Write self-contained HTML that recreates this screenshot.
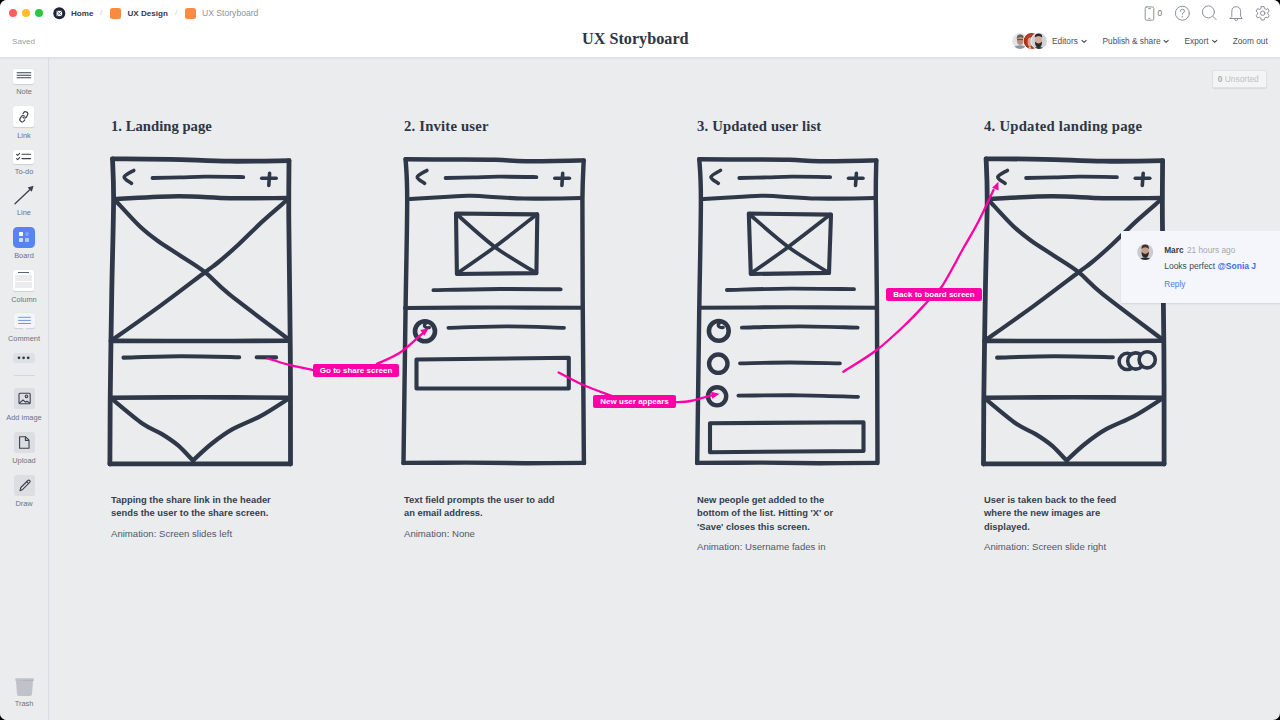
<!DOCTYPE html>
<html><head><meta charset="utf-8">
<style>
html,body{margin:0;padding:0;width:1280px;height:720px;overflow:hidden;background:#000;}
body{font-family:"Liberation Sans",sans-serif;}
#win{position:absolute;left:0;top:0;width:1280px;height:720px;background:#EBECEE;border-radius:7px;overflow:hidden;}
.a{position:absolute;white-space:nowrap;}
#top{position:absolute;left:0;top:0;width:1280px;height:57px;background:#fff;border-bottom:1px solid #dfe0e3;box-shadow:0 1px 1.5px rgba(0,0,0,0.05);z-index:2;}
#side{position:absolute;left:0;top:58px;width:48px;height:662px;background:#EBECEE;border-right:1px solid #dadce0;}
.tl{position:absolute;top:8.5px;width:8px;height:8px;border-radius:50%;}
.crumb{font-size:8.1px;color:#333b49;font-weight:bold;top:8.5px;}
.lbl{font-size:7.4px;color:#6b7280;text-align:center;width:48px;left:0;margin-top:0.6px;}
.tool{position:absolute;left:13px;width:21px;background:#fff;border-radius:2px;box-shadow:0 0.5px 1px rgba(0,0,0,0.12);}
.h{font-family:"Liberation Serif",serif;font-weight:bold;color:#2e3645;font-size:14.7px;top:118px;}
.d{font-size:9.4px;font-weight:bold;color:#363e4c;line-height:13.3px;white-space:normal;}
.an{font-size:9.6px;color:#505866;}
.lab{background:#FF00A6;color:#fff;font-weight:bold;font-size:8px;height:13px;line-height:13.5px;text-align:center;border-radius:2px;}
.av{width:15px;height:15px;border-radius:50%;border:1px solid #fff;}
.menu{font-size:8.3px;color:#474f5c;top:36px;}
</style></head><body>
<div id="win">
  <div id="top">
    <div class="tl" style="left:8.5px;background:#FE5F57;"></div>
    <div class="tl" style="left:22px;background:#FEBC2E;"></div>
    <div class="tl" style="left:35px;background:#28C840;"></div>
    <svg class="a" style="left:53px;top:7px;" width="13" height="13" viewBox="53 7 13 13"><circle cx="59.3" cy="13.15" r="6" fill="#1b2436"/><rect x="56.6" y="10.8" width="5.5" height="5.3" fill="#fff"/><path d="M56.9 11.1L59.35 13.6L61.8 11.1M56.9 15.8L58.6 14.2M61.8 15.8L59.4 13.6" stroke="#1b2436" stroke-width="0.75" fill="none"/></svg>
    <div class="a crumb" style="left:71px;">Home</div>
    <div class="a" style="left:100px;top:8px;font-size:8px;color:#c9ccd1;">/</div>
    <div class="a" style="left:110px;top:8px;width:10.5px;height:10.5px;border-radius:2.5px;background:#FB8A43;"></div>
    <div class="a crumb" style="left:127.5px;">UX Design</div>
    <div class="a" style="left:175px;top:8px;font-size:8px;color:#c9ccd1;">/</div>
    <div class="a" style="left:185px;top:8px;width:10.5px;height:10.5px;border-radius:2.5px;background:#FB8A43;"></div>
    <div class="a crumb" style="left:202px;top:8px;font-weight:normal;color:#8d939c;font-size:8.6px;">UX Storyboard</div>
    <div class="a" style="left:12px;top:37px;font-size:8.1px;color:#9aa0a8;">Saved</div>
    <div class="a" style="left:582px;top:30px;font-family:'Liberation Serif',serif;font-weight:bold;font-size:16.2px;color:#2e3645;">UX Storyboard</div>
    <svg class="a" style="left:1140px;top:4px;" width="130" height="20" viewBox="1140 4 130 20"><g fill="none" stroke="#8c929b" stroke-width="1" stroke-linecap="round" stroke-linejoin="round">
      <rect x="1145.2" y="6.9" width="8.6" height="13.3" rx="1.4"/><path d="M1148.6 8.6H1150.4M1148.9 18.4H1150.1"/>
      <circle cx="1182.4" cy="13.2" r="7"/><path d="M1180.3 11.3Q1180.3 9.2 1182.4 9.2Q1184.5 9.2 1184.5 11.1Q1184.5 12.5 1182.4 13.3V14.4"/><circle cx="1182.4" cy="16.6" r="0.25" stroke-width="1.1"/>
      <circle cx="1208.4" cy="11.9" r="6"/><path d="M1212.8 16.3L1216.2 19.7"/>
      <path d="M1230.3 18.5H1242.2L1240.6 16.2V11.8Q1240.6 6.7 1236.2 6.7Q1231.8 6.7 1231.8 11.8V16.2Z"/><path d="M1234.6 18.7Q1234.6 20.6 1236.2 20.6Q1237.8 20.6 1237.8 18.7"/>
      <path d="M1261.3 6.6h2.8l0.4 1.9 1.6 0.9 1.8-0.7 1.4 2.4-1.5 1.3v1.8l1.5 1.3-1.4 2.4-1.8-0.7-1.6 0.9-0.4 1.9h-2.8l-0.4-1.9-1.6-0.9-1.8 0.7-1.4-2.4 1.5-1.3v-1.8l-1.5-1.3 1.4-2.4 1.8 0.7 1.6-0.9z"/><circle cx="1262.7" cy="13.2" r="2.2"/>
    </g></svg>
    <div class="a" style="left:1157.5px;top:9.3px;font-size:8.2px;color:#6b7280;">0</div>
    <svg class="a" style="left:1000px;top:28px;" width="60" height="28" viewBox="1000 28 60 28">
      <defs><clipPath id="c1"><circle cx="1020" cy="41" r="7.9"/></clipPath><clipPath id="c2"><circle cx="1031.5" cy="41" r="7.9"/></clipPath><clipPath id="c3"><circle cx="1039" cy="41" r="7.9"/></clipPath></defs>
      <g clip-path="url(#c1)"><rect x="1010" y="31" width="20" height="20" fill="#e1e4e9"/><ellipse cx="1020" cy="48.5" rx="6.5" ry="3.2" fill="#8e96a3"/><ellipse cx="1020.3" cy="40.5" rx="3.4" ry="4.4" fill="#b98f7a"/><path d="M1016.7 39Q1016.5 34.6 1020.3 34.6Q1024 34.6 1023.8 39Q1022.5 36.8 1020.3 36.9Q1018 36.8 1016.7 39Z" fill="#6d5c52"/><path d="M1017 39.6H1023.6" stroke="#4e4644" stroke-width="0.9"/></g>
      <circle cx="1031.5" cy="41" r="8.5" fill="#fff"/>
      <g clip-path="url(#c2)"><rect x="1022" y="31" width="20" height="20" fill="#a8321e"/><path d="M1025 36Q1028 33 1033 34Q1038 36 1038 45Q1036 50 1033 50L1029 50Q1026 44 1025 36Z" fill="#b53d25"/><ellipse cx="1030" cy="42" rx="2.3" ry="4.6" fill="#d9a48c"/><path d="M1027 50L1030 46L1032 50Z" fill="#e8c8b8"/><path d="M1024 50Q1025 46 1027.5 47L1027 50Z" fill="#2a1a18"/></g>
      <circle cx="1039" cy="41" r="8.5" fill="#fff"/>
      <g clip-path="url(#c3)"><rect x="1030" y="31" width="20" height="20" fill="#cfd3d9"/><ellipse cx="1038.5" cy="40" rx="3.6" ry="4.6" fill="#d2ae9c"/><path d="M1034.8 37.5Q1034.5 33.5 1038.5 33.5Q1042.5 33.5 1042.2 37.5Q1040.5 36 1038.5 36Q1036.5 36 1034.8 37.5Z" fill="#2b2827"/><path d="M1034.9 41.5Q1035 47.5 1038.5 47.5Q1042 47.5 1042.1 41.5Q1040 43.5 1038.5 43.4Q1037 43.5 1034.9 41.5Z" fill="#2e2a29"/><path d="M1032 50Q1033 47 1038.5 47Q1044 47 1045 50Z" fill="#2b2b2d"/></g>
    </svg>
    <svg class="a" style="left:1080px;top:38px;" width="140" height="8" viewBox="1080 38 140 8"><g fill="none" stroke="#474f5c" stroke-width="1.1" stroke-linecap="round" stroke-linejoin="round"><path d="M1082 40.3L1084.1 42.4L1086.2 40.3"/><path d="M1164 40.3L1166.1 42.4L1168.2 40.3"/><path d="M1212.6 40.3L1214.7 42.4L1216.8 40.3"/></g></svg>
    <div class="a menu" style="left:1052px;">Editors</div>
    <div class="a menu" style="left:1102.5px;">Publish &amp; share</div>
    <div class="a menu" style="left:1184.5px;">Export</div>
    <div class="a menu" style="left:1232.7px;">Zoom out</div>
  </div>
  <div id="side">
    <div class="tool" style="top:11.4px;height:14.6px;"><svg width="21" height="15" style="position:absolute;left:0;top:0"><path d="M3.7 3.8H18.2M3.7 6.3H18.2M3.7 8.8H18.2" stroke="#3a4250" stroke-width="1.1"/></svg></div>
    <div class="a lbl" style="top:28.5px;">Note</div>
    <div class="tool" style="top:48.2px;height:20.8px;"><svg width="21" height="21" viewBox="0 0 21 21" style="position:absolute;left:0;top:0"><g transform="rotate(-14 10.8 10.8) translate(5.3 5.3) scale(0.46)" fill="none" stroke="#3a4250" stroke-width="2.5" stroke-linecap="round" stroke-linejoin="round"><path d="M10 13a5 5 0 0 0 7.54.54l3-3a5 5 0 0 0-7.07-7.07l-1.72 1.71"/><path d="M14 11a5 5 0 0 0-7.54-.54l-3 3a5 5 0 0 0 7.07 7.07l1.71-1.71"/></g></svg></div>
    <div class="a lbl" style="top:72px;">Link</div>
    <div class="tool" style="top:91.6px;height:14.6px;"><svg width="21" height="15" style="position:absolute;left:0;top:0"><g fill="none" stroke="#3a4250" stroke-width="1.1" stroke-linecap="round" stroke-linejoin="round"><path d="M3.6 4.3l1.1 1.1 1.9-2"/><path d="M3.6 8.6l1.1 1.1 1.9-2"/><path d="M9 4.2H17.6M9 8.6H17.6"/></g></svg></div>
    <div class="a lbl" style="top:108.5px;">To-do</div>
    <svg class="a" style="left:12px;top:124px;" width="24" height="24"><path d="M3 21.8L19.6 6" stroke="#3a4250" stroke-width="1.3" stroke-linecap="round"/><path d="M21.6 3.8L15.6 5.6L19.8 9.8Z" fill="#3a4250"/></svg>
    <div class="a lbl" style="top:149px;">Line</div>
    <div class="a" style="left:13.3px;top:168.7px;width:21.6px;height:21px;border-radius:4.5px;background:#5784F3;"><div class="a" style="left:5.6px;top:5.3px;width:4.2px;height:4.5px;background:#fff;border-radius:0.8px;"></div><div class="a" style="left:11.7px;top:5.5px;width:4.2px;height:4.3px;background:#84a3f6;border-radius:50%;"></div><div class="a" style="left:5.6px;top:11.3px;width:4.2px;height:4.5px;background:#d3defc;border-radius:0.8px;"></div><div class="a" style="left:11.7px;top:11.3px;width:4.2px;height:4.5px;background:#b3c6fa;border-radius:0.8px;"></div></div>
    <div class="a lbl" style="top:192px;">Board</div>
    <div class="tool" style="top:211.8px;height:21px;"><div class="a" style="left:4.7px;top:2.2px;width:11.5px;height:1.1px;background:#5b6270;"></div><div class="a" style="left:2px;top:5.5px;width:17px;height:5.6px;background:#ececee;"></div><div class="a" style="left:2px;top:12.4px;width:17px;height:5.6px;background:#ececee;"></div></div>
    <div class="a lbl" style="top:236px;">Column</div>
    <div class="a" style="left:13.5px;top:255px;width:21px;height:15.3px;background:#F2F5FD;border-radius:2px;box-shadow:0 0.5px 1px rgba(0,0,0,0.12);"><svg width="21" height="19" style="position:absolute;left:0;top:0;overflow:visible"><path d="M4.2 4.3H16.8M4.2 7.4H16.8M4.2 10.5H16.8" stroke="#6D95EF" stroke-width="1"/><path d="M8.6 15.3L10.5 17.3L12.4 15.3Z" fill="#F2F5FD"/></svg></div>
    <div class="a lbl" style="top:275px;">Comment</div>
    <div class="a" style="left:13.3px;top:295.2px;width:21.4px;height:9.7px;background:#dfe0e3;border-radius:3px;"><svg width="21" height="10" style="position:absolute;left:0;top:0"><g fill="#2f3848"><circle cx="6" cy="4.85" r="1.35"/><circle cx="10.6" cy="4.85" r="1.35"/><circle cx="15.2" cy="4.85" r="1.35"/></g></svg></div>
    <div class="a" style="left:13.5px;top:316.8px;width:21px;height:0.6px;background:#d4d6da;"></div>
    <div class="a" style="left:13.5px;top:330px;width:21px;height:21px;background:#dcdee2;border-radius:2.5px;"><svg width="21" height="21" style="position:absolute;left:0;top:0"><g fill="none" stroke="#3a4250" stroke-width="1.1" stroke-linejoin="round"><rect x="5" y="5.2" width="11.2" height="10.6" rx="1"/><circle cx="12.5" cy="8.3" r="1.3"/><path d="M5.3 15.2L9 12L11.5 14.2L13 13.2L16 15.2"/></g></svg></div>
    <div class="a lbl" style="top:354.5px;">Add image</div>
    <div class="a" style="left:13.5px;top:373.5px;width:21px;height:21px;background:#dcdee2;border-radius:2.5px;"><svg width="21" height="21" style="position:absolute;left:0;top:0"><g fill="none" stroke="#3a4250" stroke-width="1.1" stroke-linejoin="round"><path d="M5.6 4.8H11.6L15 8.2V16.2H5.6Z"/><path d="M11.4 4.8V8.4H15"/></g></svg></div>
    <div class="a lbl" style="top:397.5px;">Upload</div>
    <div class="a" style="left:13.5px;top:416.8px;width:21px;height:21px;background:#dcdee2;border-radius:2.5px;"><svg width="21" height="21" style="position:absolute;left:0;top:0"><g fill="none" stroke="#3a4250" stroke-width="1.1" stroke-linejoin="round"><path d="M6 15.8L6.8 12.5L13.8 5.5A1.3 1.3 0 0 1 15.7 7.4L8.7 14.4Z"/><path d="M12.6 6.7L14.6 8.7"/></g></svg></div>
    <div class="a lbl" style="top:440.5px;">Draw</div>
    <svg class="a" style="left:14.5px;top:619.5px;" width="19" height="19"><path d="M0.4 0.3H18.7V2.8L18 3L17 16.2Q16.8 18 15 18H4Q2.2 18 2 16.2L1 3L0.4 2.8Z" fill="#bfc2c8"/><path d="M1 2.8L18.2 1.8V2.8Z" fill="#a9adb4"/></svg>
    <div class="a lbl" style="top:640.5px;">Trash</div>
  </div>


  <svg class="a" style="left:0;top:0;" width="1280" height="720" viewBox="0 0 1280 720">
    <g fill="none" stroke="#2f3848" stroke-linecap="round" stroke-linejoin="round">
<path d="M112.5 158.8C122.1 158.9 150.4 158.9 170.0 159.3C189.6 159.7 210.2 161.0 230.0 161.2C249.8 161.4 279.2 160.7 289.0 160.6" stroke-width="4.80" />
<path d="M289.0 160.6C289.0 170.5 288.6 188.4 288.8 220.0C289.0 251.6 290.0 309.3 290.3 350.0C290.6 390.7 290.5 445.0 290.5 464.0" stroke-width="4.80" />
<path d="M112.5 158.8C112.7 165.7 113.7 178.1 113.6 200.0C113.5 221.9 112.4 256.7 111.8 290.0C111.2 323.3 110.5 371.0 110.2 400.0C109.9 429.0 110.0 453.3 109.9 464.0" stroke-width="4.80" />
<path d="M109.9 463.8C124.9 463.8 169.9 463.9 200.0 463.9C230.1 463.9 275.4 463.8 290.5 463.8" stroke-width="4.80" />
<path d="M115.0 199.0C125.5 198.6 158.8 196.4 178.0 196.3C197.2 196.2 211.7 197.9 230.0 198.2C248.3 198.5 278.3 198.0 288.0 198.0" stroke-width="4.44" />
<path d="M133.8 170.4C132.2 171.5 124.6 174.8 124.2 177.0C123.8 179.2 130.3 182.2 131.5 183.3" stroke-width="3.60" stroke-linejoin="round"/>
<path d="M152.5 178.0C157.1 177.9 171.2 177.6 180.0 177.4C188.8 177.2 194.4 176.8 205.0 176.7C215.6 176.6 236.9 177.0 243.3 177.1" stroke-width="3.84" />
<path d="M261.7 178.3L276.2 178.3" stroke-width="3.60" />
<path d="M269.6 173.3L268.8 185.4" stroke-width="3.60" />
<path d="M115.5 200.5C119.6 204.8 132.9 219.8 140.0 226.5C147.1 233.2 151.3 236.2 158.0 241.0C164.7 245.8 172.2 250.3 180.0 255.5C187.8 260.7 196.8 265.7 205.0 272.2C213.2 278.7 215.7 283.3 229.4 294.4C243.2 305.4 277.8 331.1 287.5 338.5" stroke-width="4.20" />
<path d="M287.0 200.0C283.0 203.5 271.0 213.6 262.8 221.1C254.6 228.6 245.5 238.1 238.0 245.0C230.5 251.9 223.5 258.0 218.0 262.5C212.5 267.0 214.6 265.0 205.0 272.2C195.4 279.4 176.2 294.2 160.6 305.6C145.0 317.0 119.7 334.7 111.5 340.5" stroke-width="4.20" />
<path d="M110.8 340.9C125.7 340.9 170.2 341.0 200.0 341.0C229.8 341.0 274.8 340.8 289.7 340.7" stroke-width="4.56" />
<path d="M123.5 357.6C132.9 357.4 160.7 356.3 180.0 356.2C199.3 356.1 229.3 357.0 239.2 357.2" stroke-width="4.08" />
<path d="M256.7 357.2L276.1 357.4" stroke-width="4.08" />
<path d="M111.0 397.7C125.8 397.6 170.2 397.3 200.0 397.3C229.8 397.3 275.0 397.6 290.0 397.7" stroke-width="4.56" />
<path d="M112.8 399.7C117.7 403.7 134.1 417.8 142.3 423.5C150.5 429.2 156.0 430.4 162.0 434.1C168.0 437.8 173.2 441.2 178.4 445.6C183.6 450.1 190.7 458.3 193.2 460.8" stroke-width="4.20" />
<path d="M287.0 399.7C282.6 402.4 269.6 411.2 260.5 416.1C251.4 421.0 240.8 424.6 232.6 429.2C224.4 433.8 217.9 438.8 211.3 444.0C204.7 449.2 196.2 457.6 193.2 460.3" stroke-width="4.20" />
<path d="M986.1 158.8C995.7 158.9 1024.0 158.9 1043.6 159.3C1063.2 159.7 1083.8 161.0 1103.6 161.2C1123.4 161.4 1152.8 160.7 1162.6 160.6" stroke-width="4.80" />
<path d="M1162.6 160.6C1162.6 170.5 1162.2 188.4 1162.4 220.0C1162.6 251.6 1163.6 309.3 1163.9 350.0C1164.2 390.7 1164.1 445.0 1164.1 464.0" stroke-width="4.80" />
<path d="M986.1 158.8C986.3 165.7 987.3 178.1 987.2 200.0C987.1 221.9 986.0 256.7 985.4 290.0C984.8 323.3 984.1 371.0 983.8 400.0C983.5 429.0 983.5 453.3 983.5 464.0" stroke-width="4.80" />
<path d="M983.5 463.8C998.5 463.8 1043.5 463.9 1073.6 463.9C1103.7 463.9 1149.0 463.8 1164.1 463.8" stroke-width="4.80" />
<path d="M988.6 199.0C999.1 198.6 1032.4 196.4 1051.6 196.3C1070.8 196.2 1085.3 197.9 1103.6 198.2C1121.9 198.5 1151.9 198.0 1161.6 198.0" stroke-width="4.44" />
<path d="M1007.4 170.4C1005.8 171.5 998.2 174.8 997.8 177.0C997.4 179.2 1003.9 182.2 1005.1 183.3" stroke-width="3.60" stroke-linejoin="round"/>
<path d="M1026.1 178.0C1030.7 177.9 1044.8 177.6 1053.6 177.4C1062.3 177.2 1068.0 176.8 1078.6 176.7C1089.1 176.6 1110.5 177.0 1116.9 177.1" stroke-width="3.84" />
<path d="M1135.3 178.3L1149.8 178.3" stroke-width="3.60" />
<path d="M1143.2 173.3L1142.3 185.4" stroke-width="3.60" />
<path d="M989.1 200.5C993.2 204.8 1006.5 219.8 1013.6 226.5C1020.7 233.2 1024.9 236.2 1031.6 241.0C1038.3 245.8 1045.8 250.3 1053.6 255.5C1061.4 260.7 1070.4 265.7 1078.6 272.2C1086.8 278.7 1089.2 283.3 1103.0 294.4C1116.8 305.4 1151.4 331.1 1161.1 338.5" stroke-width="4.20" />
<path d="M1160.6 200.0C1156.6 203.5 1144.6 213.6 1136.4 221.1C1128.2 228.6 1119.1 238.1 1111.6 245.0C1104.1 251.9 1097.1 258.0 1091.6 262.5C1086.1 267.0 1088.2 265.0 1078.6 272.2C1069.0 279.4 1049.8 294.2 1034.2 305.6C1018.6 317.0 993.3 334.7 985.1 340.5" stroke-width="4.20" />
<path d="M984.4 340.9C999.3 340.9 1043.8 341.0 1073.6 341.0C1103.4 341.0 1148.3 340.8 1163.3 340.7" stroke-width="4.56" />
<path d="M997.1 357.6C1006.5 357.4 1034.3 356.3 1053.6 356.2C1072.9 356.1 1102.9 357.0 1112.8 357.2" stroke-width="4.08" />
<path d="M984.6 397.7C999.4 397.6 1043.8 397.3 1073.6 397.3C1103.4 397.3 1148.6 397.6 1163.6 397.7" stroke-width="4.56" />
<path d="M986.4 399.7C991.3 403.7 1007.7 417.8 1015.9 423.5C1024.1 429.2 1029.6 430.4 1035.6 434.1C1041.6 437.8 1046.8 441.2 1052.0 445.6C1057.2 450.1 1064.3 458.3 1066.8 460.8" stroke-width="4.20" />
<path d="M1160.6 399.7C1156.2 402.4 1143.2 411.2 1134.1 416.1C1125.0 421.0 1114.4 424.6 1106.2 429.2C1098.0 433.8 1091.5 438.8 1084.9 444.0C1078.3 449.2 1069.8 457.6 1066.8 460.3" stroke-width="4.20" />
<circle cx="1127.2" cy="361.4" r="8.1" stroke-width="3.6" fill="#EBECEE"/>
<circle cx="1135.8" cy="361.0" r="8.1" stroke-width="3.6" fill="#EBECEE"/>
<circle cx="1147.2" cy="359.8" r="8.1" stroke-width="3.6" fill="#EBECEE"/>
<path d="M405.6 159.2C412.3 159.2 430.6 159.4 445.6 159.5C460.6 159.6 482.3 159.5 495.6 159.8C508.9 160.1 510.9 161.2 525.6 161.3C540.3 161.4 574.0 160.6 583.7 160.4" stroke-width="4.44" />
<path d="M583.7 160.4C583.5 167.0 582.6 176.7 582.4 200.0C582.2 223.3 582.5 256.2 582.7 300.0C583.0 343.8 583.7 435.8 583.9 463.0" stroke-width="4.44" />
<path d="M405.6 159.2C405.9 166.0 407.2 173.2 407.2 200.0C407.2 226.8 406.0 276.2 405.4 320.0C404.8 363.8 403.8 439.2 403.5 463.0" stroke-width="4.44" />
<path d="M403.5 462.9C413.9 462.8 445.2 462.6 465.6 462.6C486.0 462.7 505.9 463.1 525.6 463.2C545.4 463.2 574.4 462.9 584.1 462.9" stroke-width="4.44" />
<path d="M410.1 199.0C416.5 198.6 438.4 197.2 448.6 196.7C458.9 196.2 459.1 195.5 471.6 195.8C484.1 196.1 505.2 198.1 523.6 198.5C542.0 198.9 572.0 198.1 581.7 198.0" stroke-width="4.08" />
<path d="M426.9 170.4C425.3 171.5 417.7 174.8 417.3 177.0C416.9 179.2 423.4 182.2 424.6 183.3" stroke-width="3.60" stroke-linejoin="round"/>
<path d="M445.6 178.0C450.2 177.9 464.4 177.6 473.1 177.4C481.9 177.2 487.6 176.8 498.1 176.7C508.7 176.6 530.0 177.0 536.4 177.1" stroke-width="3.84" />
<path d="M554.8 178.3L569.4 178.3" stroke-width="3.60" />
<path d="M562.7 173.3L561.9 185.4" stroke-width="3.60" />
<path d="M456.0 213.5L537.3 214.4L536.4 273.1L456.9 274.0Z" stroke-width="4.1" stroke-linejoin="round"/>
<path d="M456.5 214.0C462.9 219.5 481.5 237.1 494.8 246.9C508.1 256.8 529.5 268.7 536.4 273.1" stroke-width="3.72" />
<path d="M537.0 214.2C530.0 219.6 508.2 237.0 494.8 246.9C481.4 256.8 463.2 269.2 456.9 273.6" stroke-width="3.72" />
<path d="M433.4 290.2C444.5 290.0 478.8 289.1 500.0 289.0C521.2 288.9 550.6 289.2 560.7 289.3" stroke-width="3.84" />
<path d="M405.0 308.0C419.2 307.9 460.5 307.5 490.0 307.5C519.5 307.5 566.7 307.8 582.0 307.8" stroke-width="4.08" />
<circle cx="425.0" cy="331.2" r="10.0" stroke-width="4.6"/>
<path d="M426.8 322.8Q423.6 324.2 424.6 326.4Q425.8 328.2 429.4 327.6" stroke-width="3.2"/>
<path d="M448.4 327.8C458.0 327.6 486.7 326.3 506.0 326.3C525.3 326.3 554.3 327.6 564.0 327.8" stroke-width="3.84" />
<path d="M416.5 359.5L568.8 357.8L568.8 388.5L416.5 388.5Z" stroke-width="4.1" stroke-linejoin="round"/>
<path d="M699.3 159.2C706.0 159.2 724.3 159.4 739.3 159.5C754.3 159.6 776.0 159.5 789.3 159.8C802.6 160.1 804.8 161.2 819.3 161.3C833.8 161.4 866.8 160.6 876.3 160.4" stroke-width="4.44" />
<path d="M876.3 160.4C876.2 167.0 875.7 176.7 875.8 200.0C875.9 223.3 876.6 256.2 876.9 300.0C877.2 343.8 877.4 435.8 877.5 463.0" stroke-width="4.44" />
<path d="M699.3 159.2C699.6 166.0 700.9 173.2 700.9 200.0C700.9 226.8 699.7 276.2 699.1 320.0C698.5 363.8 697.5 439.2 697.2 463.0" stroke-width="4.44" />
<path d="M697.2 462.9C707.5 462.8 738.9 462.6 759.3 462.6C779.6 462.7 799.7 463.1 819.3 463.2C838.9 463.2 867.1 462.9 876.7 462.9" stroke-width="4.44" />
<path d="M703.8 199.0C710.2 198.6 732.0 197.2 742.3 196.7C752.5 196.2 752.8 195.5 765.3 195.8C777.8 196.1 799.1 198.1 817.3 198.5C835.5 198.9 864.8 198.1 874.3 198.0" stroke-width="4.08" />
<path d="M720.5 170.4C719.0 171.5 711.4 174.8 711.0 177.0C710.6 179.2 717.1 182.2 718.3 183.3" stroke-width="3.60" stroke-linejoin="round"/>
<path d="M739.3 178.0C743.9 177.9 758.0 177.6 766.8 177.4C775.5 177.2 781.2 176.8 791.8 176.7C802.3 176.6 823.7 177.0 830.1 177.1" stroke-width="3.84" />
<path d="M848.5 178.3L863.0 178.3" stroke-width="3.60" />
<path d="M856.4 173.3L855.5 185.4" stroke-width="3.60" />
<path d="M748.8 213.5L831.0 214.6L829.0 272.9L750.8 274.0Z" stroke-width="4.1" stroke-linejoin="round"/>
<path d="M749.2 214.0C755.7 219.5 775.0 237.1 788.3 246.9C801.6 256.7 822.2 268.6 829.0 272.9" stroke-width="3.72" />
<path d="M830.5 214.4C823.5 219.8 801.6 237.0 788.3 246.9C775.0 256.8 757.0 269.2 750.8 273.6" stroke-width="3.72" />
<path d="M726.9 290.0C737.4 289.8 768.8 288.7 790.0 288.6C811.2 288.5 843.3 289.1 854.0 289.2" stroke-width="3.84" />
<path d="M699.4 307.8C714.5 307.7 760.7 307.3 790.0 307.3C819.3 307.3 861.1 307.7 875.3 307.8" stroke-width="4.08" />
<circle cx="718.8" cy="330.9" r="9.9" stroke-width="4.6"/>
<path d="M720.6 322.6Q717.4 324 718.4 326.2Q719.6 328 723.2 327.4" stroke-width="3.2"/>
<circle cx="718.3" cy="363.7" r="9.2" stroke-width="4.4"/>
<circle cx="717.1" cy="396.3" r="9.1" stroke-width="4.4"/>
<path d="M741.9 327.6C751.6 327.4 780.7 326.3 800.0 326.3C819.3 326.3 848.0 327.4 857.6 327.6" stroke-width="3.84" />
<path d="M740.0 363.3C748.3 363.2 773.4 362.5 790.0 362.5C806.6 362.5 831.6 363.2 839.9 363.3" stroke-width="3.84" />
<path d="M738.4 395.6C748.7 395.6 780.1 395.1 800.0 395.3C819.9 395.5 848.3 396.6 858.0 396.8" stroke-width="3.84" />
<path d="M710.0 423.2L863.5 422.3L863.5 451.0L710.0 452.2Z" stroke-width="4.1" stroke-linejoin="round"/>
    </g>
    <g fill="none" stroke="#FF00A6" stroke-width="2.3" stroke-linecap="round">
<path d="M267.7 358.5C271.3 359.6 281.6 362.9 289.5 364.9C297.4 366.9 310.8 369.6 315.0 370.5"/>
<path d="M376.7 364.0C380.7 362.0 392.7 357.5 400.6 352.2C408.5 346.9 420.1 335.4 424.0 332.0"/>
<path d="M428.8 328.3L424.3 335.8L420.3 330.1Z" fill="#FF00A6" stroke="none"/>
<path d="M558.6 372.5C562.8 374.6 574.9 381.4 583.8 385.3C592.7 389.2 607.3 394.2 612.0 396.0"/>
<path d="M676.0 402.2C678.4 402.0 684.4 402.2 690.6 401.0C696.8 399.8 709.3 396.0 713.0 395.0"/>
<path d="M719.5 393.8L712.3 398.7L711.0 391.8Z" fill="#FF00A6" stroke="none"/>
<path d="M843.3 371.7C848.9 368.1 866.1 358.1 876.7 350.0C887.3 341.9 898.4 331.2 906.7 323.3C915.0 315.4 920.9 308.6 926.7 302.5C932.5 296.4 935.6 295.7 941.7 286.7C947.8 277.7 957.2 259.1 963.3 248.3C969.4 237.5 973.3 231.4 978.3 221.7C983.3 212.0 991.0 195.3 993.5 190.0"/>
<path d="M998.4 181.7L998.6 190.4L992.1 187.8Z" fill="#FF00A6" stroke="none"/>
    </g>
  </svg>
  <div class="a lab" style="left:313.2px;top:364px;width:85.8px;">Go to share screen</div>
  <div class="a lab" style="left:593px;top:395px;width:83.2px;">New user appears</div>
  <div class="a lab" style="left:886.4px;top:288px;width:95.3px;">Back to board screen</div>
  <div class="a" style="left:1211.8px;top:69.7px;width:55.4px;height:18.4px;box-sizing:border-box;border:0.6px solid #dfe1e4;border-radius:2px;background:#f3f4f4;box-shadow:0 1px 1px rgba(0,0,0,0.08);"></div>
  <div class="a" style="left:1217.8px;top:73.5px;font-size:8.4px;color:#bdc1c6;"><b style="color:#a9adb3">0</b> Unsorted</div>
  <div class="a" style="left:1121.4px;top:231px;width:170px;height:71.6px;background:#F4F6FC;border-radius:1px;box-shadow:0 1px 2px rgba(0,0,0,0.10);"></div>
  <svg class="a" style="left:1136px;top:243px;" width="18" height="18" viewBox="1136 243 18 18"><defs><clipPath id="c4"><circle cx="1145.2" cy="252" r="8"/></clipPath></defs><g clip-path="url(#c4)"><rect x="1136" y="243" width="18" height="18" fill="#c9cbcf"/><ellipse cx="1145.2" cy="251" rx="3.7" ry="4.9" fill="#c99d88"/><path d="M1141.4 249Q1141.3 244.6 1145.2 244.6Q1149.1 244.6 1149 249Q1147.5 247.2 1145.2 247.2Q1142.9 247.2 1141.4 249Z" fill="#3a3331"/><path d="M1141.5 251.8Q1141.6 257.8 1145.2 257.8Q1148.8 257.8 1148.9 251.8Q1147 254 1145.2 253.9Q1143.4 254 1141.5 251.8Z" fill="#2f2a28"/><path d="M1138 261Q1139 257.5 1145.2 257.5Q1151.4 257.5 1152.4 261Z" fill="#2a2a2c"/></g></svg>
  <div class="a" style="left:1164.2px;top:245px;font-size:8.3px;color:#3b4350;"><b style="color:#333a46">Marc</b> <span style="color:#a3a8b0;margin-left:1px;">21 hours ago</span></div>
  <div class="a" style="left:1164.2px;top:260.5px;font-size:8.5px;color:#414957;">Looks perfect <b style="color:#3c6fe6;">@Sonia J</b></div>
  <div class="a" style="left:1164.2px;top:278.5px;font-size:8.3px;color:#4a7de8;">Reply</div>
  <div class="a h" style="left:111px;">1. Landing page</div>
  <div class="a h" style="left:404px;letter-spacing:0.19px;">2. Invite user</div>
  <div class="a h" style="left:697px;letter-spacing:0.15px;">3. Updated user list</div>
  <div class="a h" style="left:984px;letter-spacing:0.24px;">4. Updated landing page</div>

  <div class="a d" style="left:111px;top:493px;width:175px;">Tapping the share link in the header sends the user to the share screen.</div>
  <div class="a an" style="left:111px;top:528px;">Animation: Screen slides left</div>
  <div class="a d" style="left:404px;top:493px;width:160px;">Text field prompts the user to add an email address.</div>
  <div class="a an" style="left:404px;top:528px;">Animation: None</div>
  <div class="a d" style="left:697px;top:493px;width:150px;">New people get added to the bottom of the list. Hitting 'X' or 'Save' closes this screen.</div>
  <div class="a an" style="left:697px;top:541px;">Animation: Username fades in</div>
  <div class="a d" style="left:984px;top:493px;width:150px;">User is taken back to the feed where the new images are displayed.</div>
  <div class="a an" style="left:984px;top:541px;">Animation: Screen slide right</div>
</div>
</body></html>
